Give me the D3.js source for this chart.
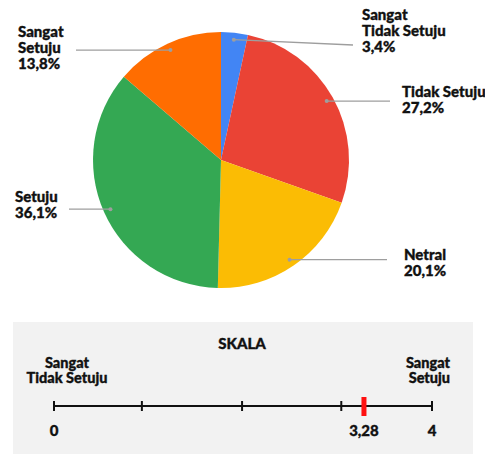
<!DOCTYPE html>
<html>
<head>
<meta charset="utf-8">
<script src="https://cdn.jsdelivr.net/npm/d3@7"></script>
<style>
  body { margin: 0; background: #fff; }
  svg text { font-family: Lato, "Open Sans", sans-serif; font-weight: 900; fill: #111; stroke: #111; stroke-width: 0.35px; }
</style>
</head>
<body>
<svg id="chart" width="485" height="454"></svg>
<script>
// survey answers, clockwise from 12 o'clock
const categories = ["Sangat Tidak Setuju", "Tidak Setuju", "Netral", "Setuju", "Sangat Setuju"];
const percentages = [3.4, 27.2, 20.1, 36.1, 13.8];
const percentLabels = ["3,4%", "27,2%", "20,1%", "36,1%", "13,8%"];
const labelRows = [["Sangat", "Tidak Setuju"], ["Tidak Setuju"], ["Netral"], ["Setuju"], ["Sangat", "Setuju"]];
const sliceColors = ["#4285f4", "#ea4335", "#fbbc04", "#34a853", "#ff6d01"];

// scale panel
const scaleTicks = [0, 0.93, 1.99, 3.04, 4];
const scaleTickLabels = [0, 3.28, 4];
const meanScore = 3.28;

const svg = d3.select("#chart");

// ---- pie ----
const cx = 221, cy = 160, radius = 128;
const g = svg.append("g").attr("transform", "translate(" + cx + "," + cy + ")");

const pie = d3.pie().sort(null).value(d => d);
const arc = d3.arc().innerRadius(0).outerRadius(radius);
const dotArc = d3.arc().innerRadius(121).outerRadius(121);
const arcs = pie(percentages);

g.selectAll("path.slice")
  .data(arcs)
  .enter()
  .append("path")
  .attr("class", "slice")
  .attr("d", arc)
  .attr("fill", (d, i) => sliceColors[i]);

// where each label sits (absolute page coords)
const labelLayout = [
  { x: 362, y: 20, lineX: 353, lineY: 45 },
  { x: 402, y: 97, lineX: 390 },
  { x: 404, y: 260, lineX: 387 },
  { x: 15, y: 202, lineX: 69 },
  { x: 18, y: 37, lineX: 76 }
];

arcs.forEach((d, i) => {
  const p = dotArc.centroid(d);
  const px = cx + p[0], py = cy + p[1];
  const lay = labelLayout[i];
  svg.append("line")
    .attr("x1", px).attr("y1", py)
    .attr("x2", lay.lineX).attr("y2", lay.lineY != null ? lay.lineY : py)
    .attr("stroke", "#9e9e9e")
    .attr("stroke-width", 1.3);
  svg.append("circle")
    .attr("cx", px).attr("cy", py).attr("r", 2)
    .attr("fill", "#9e9e9e");

  const t = svg.append("text").attr("x", lay.x).attr("y", lay.y).style("font-size", "15px");
  labelRows[i].concat([percentLabels[i]]).forEach((row, k) => {
    t.append("tspan").attr("x", lay.x).attr("dy", k === 0 ? 0 : 15.8).text(row);
  });
});

// ---- scale panel ----
svg.append("rect")
  .attr("x", 13).attr("y", 322)
  .attr("width", 460).attr("height", 132)
  .attr("fill", "#f2f2f2");

svg.append("text")
  .attr("x", 242).attr("y", 349)
  .attr("text-anchor", "middle")
  .style("font-size", "15px")
  .text("SKALA");

const x = d3.scaleLinear().domain([0, 4]).range([54, 432]);
const axisY = 406;

const leftLbl = svg.append("text").attr("text-anchor", "middle").style("font-size", "14.5px");
leftLbl.append("tspan").attr("x", x(0) + 13).attr("y", 368).text("Sangat");
leftLbl.append("tspan").attr("x", x(0) + 13).attr("y", 383).text("Tidak Setuju");

const rightLbl = svg.append("text").attr("text-anchor", "end").style("font-size", "14.5px");
rightLbl.append("tspan").attr("x", 450).attr("y", 368).text("Sangat");
rightLbl.append("tspan").attr("x", 450).attr("y", 383).text("Setuju");

svg.append("line")
  .attr("x1", x(0)).attr("x2", x(4))
  .attr("y1", axisY).attr("y2", axisY)
  .attr("stroke", "#111").attr("stroke-width", 2);

svg.selectAll("line.tick")
  .data(scaleTicks)
  .enter()
  .append("line")
  .attr("class", "tick")
  .attr("x1", d => x(d)).attr("x2", d => x(d))
  .attr("y1", axisY - 5).attr("y2", axisY + 5)
  .attr("stroke", "#111").attr("stroke-width", 2);

svg.append("rect")
  .attr("x", x(meanScore) - 2.5).attr("y", 397)
  .attr("width", 5).attr("height", 19)
  .attr("fill", "#ff1010");

svg.selectAll("text.tlabel")
  .data(scaleTickLabels)
  .enter()
  .append("text")
  .attr("class", "tlabel")
  .attr("x", d => x(d))
  .attr("y", 436)
  .attr("text-anchor", "middle")
  .style("font-size", "15px")
  .text(d => String(d).replace(".", ","));
</script>
</body>
</html>
